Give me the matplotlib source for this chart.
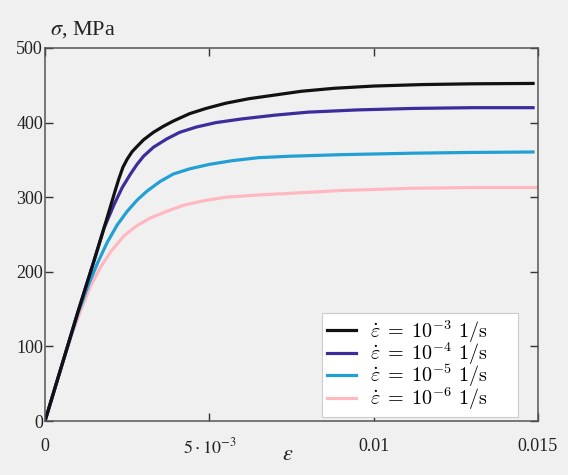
import matplotlib
matplotlib.use("Agg")
import matplotlib.pyplot as plt

# strain (-) and stress (MPa)
strain_1e3 = [0, 0.001, 0.0015, 0.0019, 0.00213, 0.00225, 0.00237, 0.0025, 0.00265, 0.0028,
              0.003, 0.0033, 0.0036, 0.0039, 0.0044, 0.0049, 0.0055, 0.0062, 0.007, 0.0078,
              0.0088, 0.01, 0.0115, 0.013, 0.01485]
stress_1e3 = [0, 146, 216, 274, 308, 325, 340, 351, 361, 368, 377, 387, 395, 402, 412, 419,
              426, 432, 437, 442, 446, 449, 451, 452, 452.5]

strain_1e4 = [0, 0.001, 0.0015, 0.0018, 0.0021, 0.00235, 0.0026, 0.0028, 0.003, 0.0033,
              0.0037, 0.0041, 0.0046, 0.0052, 0.006, 0.007, 0.008, 0.0095, 0.0112, 0.013,
              0.01485]
stress_1e4 = [0, 146, 216, 259, 290, 313, 331, 344, 355, 367, 378, 387, 394, 400, 405, 410,
              414, 417, 419, 420, 420]

strain_1e5 = [0, 0.0006, 0.001, 0.0013, 0.0016, 0.0019, 0.0022, 0.0025, 0.0028, 0.0031,
              0.0035, 0.0039, 0.0044, 0.005, 0.0057, 0.0065, 0.0075, 0.009, 0.0112, 0.013,
              0.01485]
stress_1e5 = [0, 87, 144, 180, 212, 240, 263, 281, 296, 308, 321, 331, 338, 344, 349, 353,
              355, 357, 359, 360, 360.6]

strain_1e6 = [0, 0.0005, 0.0008, 0.0011, 0.0014, 0.0017, 0.002, 0.0024, 0.0028, 0.0032,
              0.0037, 0.0042, 0.0048, 0.0055, 0.0065, 0.0078, 0.009, 0.0112, 0.013, 0.01496]
stress_1e6 = [0, 74, 114, 150, 182, 207, 227, 248, 262, 272, 281, 289, 295, 300, 303, 306,
              309, 312, 313, 313]

rates = ["-3", "-4", "-5", "-6"]
colors = ["#111111", "#3b2d9b", "#22a0d6", "#ffb8c0"]
curves = [(strain_1e3, stress_1e3), (strain_1e4, stress_1e4),
          (strain_1e5, stress_1e5), (strain_1e6, stress_1e6)]

x_ticks = [0, 0.005, 0.01, 0.015]
x_ticklabels = ["0", r"$5\cdot10^{-3}$", "0.01", "0.015"]
y_ticks = [0, 100, 200, 300, 400, 500]

plt.rcParams["font.family"] = ["Liberation Serif", "DejaVu Serif"]
plt.rcParams["mathtext.fontset"] = "cm"

BG = "#f0f0f0"
fig = plt.figure(figsize=(5.68, 4.75), dpi=100, facecolor=BG)
ax = fig.add_axes([45 / 568, 1 - 421 / 475, 493 / 568, 373 / 475], facecolor=BG)

lines = []
for (xs, ys), col, r in zip(curves, colors, rates):
    lab = r"$\dot{\varepsilon}\;=\;10^{%s}\ \mathrm{1/s}$" % r + "\u00a0" * 6
    lines.append((xs, ys, col, lab))
for xs, ys, col, lab in lines[::-1]:
    ax.plot(xs, ys, color=col, lw=2.3, label=lab, solid_joinstyle="round")

ax.set_xlim(0, 0.015)
ax.set_ylim(0, 500)

for s in ax.spines.values():
    s.set_color("#555555")
    s.set_linewidth(1.1)

ax.set_xticks(x_ticks)
ax.set_xticklabels(x_ticklabels)
for t in ax.get_xticklabels():
    t.set_math_fontfamily("stix")
ax.set_yticks(y_ticks)
ax.tick_params(axis="both", direction="in", length=6, width=1.0, color="#333333",
               top=True, right=True, labelsize=13, labelcolor="#222222")
ax.tick_params(axis="x", pad=12)
ax.tick_params(axis="y", pad=1.5)

fig.text(288 / 568, 1 - 455 / 475, r"$\varepsilon$", fontsize=16, ha="center",
         va="center", math_fontfamily="stix", color="#222222")
fig.text(50 / 568, 1 - 35 / 475, r"$\sigma$, MPa", fontsize=16, ha="left",
         va="baseline", math_fontfamily="stix", color="#222222")

handles, labels = ax.get_legend_handles_labels()
leg = ax.legend(handles[::-1], labels[::-1], loc="lower right",
                bbox_to_anchor=(473 / 493, 4 / 373), borderaxespad=0,
                fontsize=14.5, frameon=True, fancybox=False, framealpha=1,
                edgecolor="#cccccc", facecolor="white", handlelength=1.4,
                handletextpad=0.7, labelspacing=-0.2, borderpad=0.25)
leg.get_frame().set_linewidth(0.8)

fig.savefig("out.png", dpi=100, facecolor=BG)
